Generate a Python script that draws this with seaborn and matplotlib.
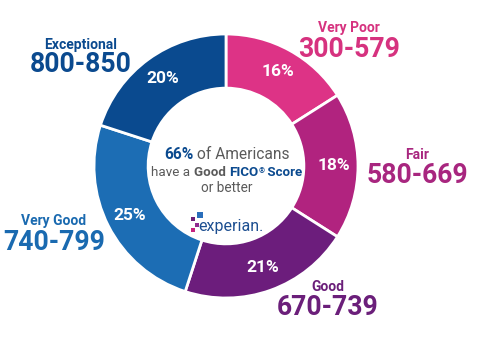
import matplotlib
matplotlib.use("Agg")
import matplotlib.pyplot as plt
import seaborn as sns

sns.set_theme(style="white")
plt.rcParams['font.family'] = ['Roboto', 'DejaVu Sans']

categories = ["Very Poor", "Fair", "Good", "Very Good", "Exceptional"]
ranges = ["300-579", "580-669", "670-739", "740-799", "800-850"]
percents = [16, 18, 21, 25, 20]
wedge_colors = ["#DD3386", "#B1237F", "#6C1D7C", "#1C6DB4", "#0A4A8F"]
label_colors = ["#D6327F", "#A8267F", "#6B1F7A", "#1A6AB0", "#0B4A8F"]
# label centre x and baselines (pixels from top)
label_x = [349, 417, 328, 54, 81]
cat_base = [32.2, 159.5, 291.2, 225.2, 49.2]
rng_base = [56.7, 183, 315, 250, 71.7]

W, H = 481, 337
fig = plt.figure(figsize=(W / 100, H / 100), dpi=100)
ax = fig.add_axes([0, 0, 1, 1])

cx, cy, R = 226, H - 166, 132
wedges, texts, autotexts = ax.pie(
    percents, colors=wedge_colors, startangle=90, counterclock=False,
    center=(cx, cy), radius=R, frame=True,
    wedgeprops=dict(width=R * 0.41, edgecolor="white", linewidth=2),
    autopct=lambda p: f"{p:.0f}%", pctdistance=0.82,
    textprops=dict(color="white", fontsize=12.5, fontweight="bold"),
)
ax.set_xlim(0, W)
ax.set_ylim(0, H)
ax.set_aspect("equal")
ax.axis("off")

for cat, rng, col, lx, cb, rb in zip(categories, ranges, label_colors, label_x, cat_base, rng_base):
    ax.text(lx, H - cb, cat, color=col, fontsize=10, fontweight="bold",
            ha="center", va="baseline")
    ax.text(lx, H - rb, rng, color=col, fontsize=19.2, fontweight="bold",
            ha="center", va="baseline")

renderer = fig.canvas.get_renderer()


def rich_line(x, y, pieces):
    arts = []
    for s, kw in pieces:
        kw = dict(kw)
        dyp = kw.pop("dy", 0)
        t = ax.text(0, y + dyp, s, va="baseline", ha="left", **kw)
        arts.append(t)
    widths = [a.get_window_extent(renderer).width for a in arts]
    total = sum(widths)
    start = x - total / 2
    for a, w in zip(arts, widths):
        a.set_x(start)
        start += w


blue = "#0B4A8F"
gray = "#5A5A5A"
rich_line(227, H - 159, [("66%", dict(color=blue, fontsize=11.2, fontweight="bold")),
                         (" of Americans", dict(color=gray, fontsize=11.2))])
rich_line(227, H - 176, [("have a ", dict(color=gray, fontsize=9.6)),
                         ("Good ", dict(color=gray, fontsize=9.6, fontweight="bold")),
                         ("FICO", dict(color=blue, fontsize=9.6, fontweight="bold")),
                         ("®", dict(color=blue, fontsize=5.5, fontweight="bold", dy=3)),
                         (" Score", dict(color=blue, fontsize=9.6, fontweight="bold"))])
rich_line(227, H - 192, [("or better", dict(color=gray, fontsize=9.8))])

# experian logo
ax.text(231, H - 227, "experian.", color="#1D4F91", fontsize=11.5,
        ha="center", va="center")
dots_x = [200, 193, 197, 193]
dots_y = [215, 219, 225, 230]
dots_c = ["#2A6EBB", "#6D2077", "#8F2A8F", "#C6237F"]
dots_s = [14, 12, 10, 8]
ax.scatter(dots_x, [H - v for v in dots_y], s=dots_s, c=dots_c, marker="s", linewidths=0)

fig.savefig("out.png", dpi=100, facecolor="white")
